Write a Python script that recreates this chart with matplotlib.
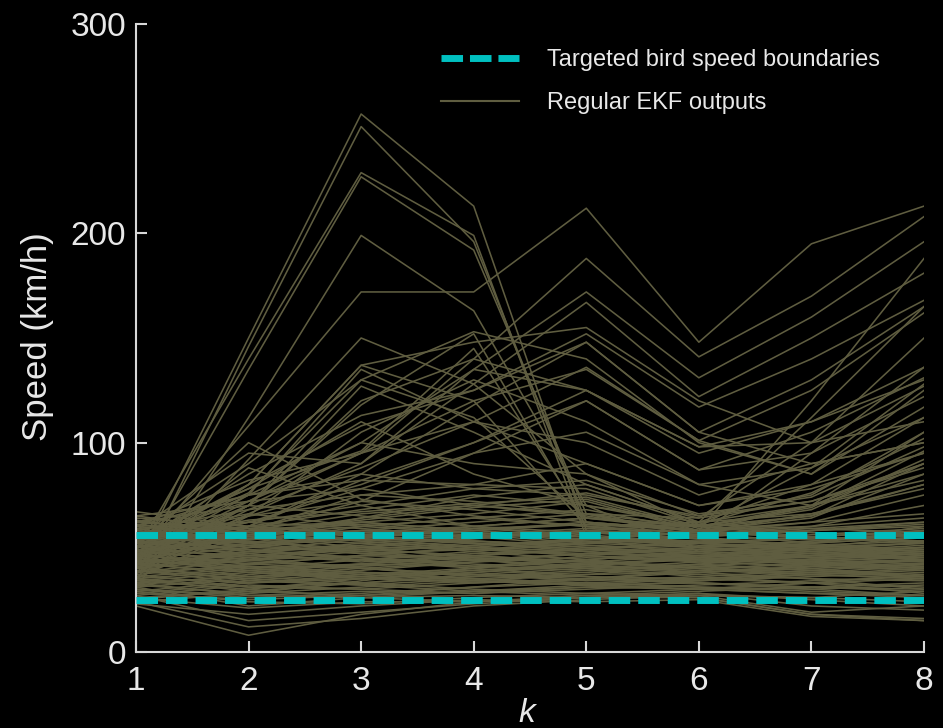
import matplotlib
matplotlib.use("Agg")
import matplotlib.pyplot as plt
from matplotlib.lines import Line2D

# ---------------- data ----------------
k_values = [1, 2, 3, 4, 5, 6, 7, 8]
bird_lower = 25
bird_upper = 56
y_ticks = [0, 100, 200, 300]

# tracks peaking at k=3
peak3_tracks = [
    [42, 150, 257, 213, 58, 52, 48, 50],
    [36, 146, 251, 196, 62, 50, 45, 47],
    [48, 140, 229, 199, 55, 45, 52, 55],
    [40, 135, 227, 192, 66, 55, 50, 44],
    [30, 112, 199, 163, 70, 48, 42, 40],
    [35, 92, 150, 128, 85, 60, 55, 58],
    [50, 100, 73, 65, 60, 55, 50, 52],
    [47, 88, 70, 60, 55, 50, 45, 48],
    [44, 80, 137, 120, 60, 57, 52, 60],
    [52, 76, 130, 112, 64, 58, 62, 66],
]

# tracks peaking at k=5
peak5_tracks = [
    [45, 108, 172, 172, 212, 148, 195, 213],
    [44, 70, 95, 140, 188, 141, 170, 208],
    [50, 75, 100, 135, 172, 131, 160, 196],
    [40, 66, 90, 128, 167, 122, 150, 181],
    [52, 80, 108, 125, 152, 117, 140, 168],
    [38, 60, 85, 118, 148, 105, 130, 165],
    [55, 72, 95, 110, 136, 101, 125, 162],
    [46, 65, 80, 100, 125, 98, 110, 136],
    [42, 58, 72, 95, 120, 87, 105, 131],
]

# intermediate tracks
mid_tracks = [
    [50, 80, 137, 148, 155, 120, 100, 110],
    [45, 75, 135, 110, 90, 70, 80, 95],
    [55, 90, 130, 153, 140, 100, 85, 125],
    [40, 70, 120, 140, 125, 95, 110, 130],
    [52, 85, 113, 125, 148, 105, 90, 100],
    [38, 65, 105, 130, 110, 80, 70, 90],
    [46, 72, 100, 90, 85, 65, 75, 105],
    [60, 82, 95, 120, 135, 101, 85, 117],
    [42, 68, 88, 110, 100, 75, 90, 100],
    [35, 60, 82, 100, 120, 87, 95, 122],
    [55, 78, 110, 85, 70, 60, 65, 80],
    [44, 70, 127, 105, 80, 62, 70, 85],
    [58, 95, 90, 135, 125, 98, 100, 127],
    [50, 62, 78, 95, 105, 80, 88, 112],
    [40, 58, 75, 80, 90, 70, 78, 95],
    [62, 75, 85, 78, 75, 65, 72, 90],
    [48, 70, 118, 152, 60, 55, 58, 62],
    [54, 78, 96, 145, 62, 58, 54, 56],
    [50, 58, 62, 58, 62, 58, 120, 188],
    [46, 52, 60, 64, 60, 62, 112, 165],
    [54, 60, 56, 55, 58, 56, 95, 136],
    [40, 48, 54, 60, 64, 60, 88, 128],
    [48, 56, 64, 70, 66, 64, 100, 150],
    [55, 65, 72, 68, 62, 58, 60, 70],
    [50, 60, 68, 75, 70, 62, 66, 78],
    [62, 70, 65, 60, 64, 60, 70, 82],
    [45, 58, 66, 70, 76, 64, 72, 88],
    [58, 68, 75, 72, 66, 60, 68, 92],
    [48, 55, 62, 66, 72, 58, 64, 85],
    [65, 72, 78, 70, 65, 57, 62, 75],
    [52, 62, 70, 78, 82, 66, 74, 98],
    [56, 66, 60, 64, 68, 58, 70, 105],
    [44, 54, 64, 74, 80, 62, 80, 112],
    [60, 75, 82, 80, 78, 61, 76, 102],
    [38, 50, 58, 62, 66, 57, 66, 80],
    [53, 63, 67, 71, 74, 60, 69, 96],
    [47, 57, 63, 69, 73, 59, 65, 90],
]

# dense band of tracks around the bird speed range
band_tracks = [
    [22, 8, 18, 24, 27, 29, 31, 33],
    [24, 12, 16, 22, 25, 27, 26, 29],
    [27, 15, 19, 23, 26, 26, 18, 16],
    [23, 18, 22, 25, 24, 25, 17, 15],
    [26, 21, 24, 24, 26, 28, 22, 20],
    [29, 24, 23, 26, 28, 27, 26, 24],
    [31, 22, 26, 29, 31, 30, 28, 27],
    [33, 27, 29, 28, 30, 32, 34, 36],
    [35, 29, 27, 31, 33, 31, 30, 32],
    [37, 31, 30, 33, 35, 34, 36, 38],
    [39, 33, 35, 34, 32, 33, 31, 30],
    [41, 34, 32, 35, 37, 38, 40, 42],
    [43, 36, 38, 37, 36, 35, 33, 31],
    [45, 38, 36, 39, 41, 40, 42, 44],
    [47, 40, 42, 41, 39, 37, 35, 34],
    [49, 42, 40, 43, 45, 44, 46, 48],
    [51, 44, 46, 45, 43, 41, 39, 37],
    [53, 46, 44, 47, 49, 48, 50, 52],
    [55, 48, 50, 49, 47, 45, 43, 41],
    [57, 50, 48, 51, 53, 52, 54, 56],
    [59, 52, 54, 53, 51, 49, 47, 45],
    [61, 54, 52, 55, 57, 56, 58, 60],
    [63, 56, 58, 57, 55, 53, 51, 49],
    [65, 58, 56, 59, 61, 60, 57, 55],
    [67, 60, 57, 55, 58, 56, 59, 62],
    [60, 55, 50, 45, 42, 38, 35, 30],
    [58, 52, 47, 44, 40, 36, 33, 28],
    [25, 30, 35, 38, 42, 45, 50, 55],
    [28, 33, 37, 40, 44, 48, 52, 58],
    [45, 50, 55, 52, 48, 44, 40, 36],
    [38, 44, 50, 55, 58, 54, 50, 46],
    [50, 45, 40, 36, 38, 42, 46, 50],
    [42, 47, 52, 48, 44, 40, 37, 35],
    [36, 40, 44, 48, 52, 56, 60, 64],
    [54, 49, 44, 40, 36, 33, 30, 27],
    [32, 28, 34, 40, 46, 50, 48, 44],
    [48, 54, 58, 56, 52, 50, 53, 57],
    [44, 40, 37, 34, 37, 41, 44, 47],
    [56, 60, 62, 58, 55, 52, 48, 45],
    [30, 26, 28, 31, 35, 39, 43, 46],
    [40, 36, 33, 30, 28, 30, 33, 37],
    [62, 58, 54, 50, 46, 44, 42, 40],
    [34, 38, 42, 45, 43, 40, 38, 36],
    [46, 43, 41, 44, 47, 50, 53, 56],
    [52, 56, 53, 49, 46, 43, 41, 39],
    [27, 32, 30, 28, 31, 34, 37, 40],
    [58, 54, 57, 60, 57, 54, 51, 48],
    [39, 35, 39, 43, 47, 46, 44, 42],
    [49, 46, 50, 53, 50, 47, 45, 43],
    [33, 36, 40, 37, 34, 36, 39, 42],
    [55, 51, 47, 49, 52, 55, 58, 61],
    [43, 48, 45, 42, 40, 38, 41, 44],
    [37, 42, 46, 50, 48, 45, 42, 39],
    [61, 57, 53, 56, 59, 57, 55, 53],
    [29, 34, 38, 35, 33, 31, 29, 27],
    [47, 51, 55, 59, 56, 52, 49, 46],
    [53, 49, 45, 41, 44, 48, 52, 55],
    [35, 31, 33, 36, 39, 42, 39, 36],
    [44, 39, 42, 46, 49, 52, 55, 58],
    [57, 53, 49, 46, 43, 40, 38, 36],
    [41, 45, 49, 46, 43, 46, 49, 52],
    [26, 29, 33, 37, 40, 43, 46, 49],
    [64, 60, 56, 52, 49, 46, 44, 42],
    [50, 53, 48, 44, 41, 39, 37, 35],
    [36, 33, 36, 39, 42, 44, 47, 50],
    [59, 62, 59, 55, 51, 48, 46, 44],
    [42, 38, 35, 38, 41, 45, 48, 51],
    [31, 35, 32, 29, 32, 35, 38, 41],
    [54, 58, 61, 57, 54, 51, 49, 47],
    [46, 42, 46, 50, 54, 57, 55, 53],
    [38, 41, 38, 35, 33, 35, 37, 39],
    [60, 56, 60, 57, 53, 50, 47, 44],
    [45, 41, 38, 35, 32, 30, 28, 26],
    [28, 25, 27, 29, 27, 26, 18, 15],
    [30, 27, 26, 27, 26, 27, 19, 22],
    [34, 30, 26, 24, 26, 28, 25, 22],
    [52, 48, 51, 54, 58, 61, 59, 57],
    [40, 44, 48, 51, 54, 52, 50, 48],
    [32, 37, 41, 44, 47, 49, 51, 53],
    [48, 44, 40, 37, 35, 33, 31, 29],
    [56, 52, 55, 58, 61, 58, 55, 52],
    [35, 39, 36, 33, 35, 38, 41, 44],
    [43, 46, 49, 52, 49, 46, 43, 40],
    [24, 28, 31, 34, 32, 30, 33, 35],
    [51, 47, 43, 46, 49, 53, 56, 59],
    [62, 59, 55, 53, 50, 47, 45, 43],
]

# ---------------- style ----------------
bg = "black"
fg = "#e8e8e8"
track_color = "#5f5d40"
bound_color = "#00c0c0"

fig = plt.figure(figsize=(9.43, 7.28), dpi=100, facecolor=bg)
ax = fig.add_axes([136 / 943, 1 - 652 / 728, (924 - 136) / 943, (652 - 24) / 728])
ax.set_facecolor(bg)

for group in (band_tracks, mid_tracks, peak5_tracks, peak3_tracks):
    for track in group:
        ax.plot(k_values, track, color=track_color, linewidth=1.15, zorder=2)

for b in (bird_lower, bird_upper):
    ax.axhline(b, color=bound_color, linewidth=5, dashes=(3.1, 1.15),
               solid_capstyle="butt", dash_capstyle="butt", zorder=3)

ax.set_xlim(1, 8)
ax.set_ylim(0, 300)
ax.set_xticks(k_values)
ax.set_yticks(y_ticks)

for s in ("top", "right"):
    ax.spines[s].set_visible(False)
for s in ("left", "bottom"):
    ax.spines[s].set_color("#d8d8d8")
    ax.spines[s].set_linewidth(1.5)

ax.tick_params(axis="both", direction="in", length=8, width=1.5,
               color="#d8d8d8", labelcolor=fg)
ax.tick_params(axis="y", labelsize=24, pad=7)
ax.tick_params(axis="x", labelsize=24, pad=10)
for lab in ax.get_yticklabels():
    lab.set_family(["Liberation Sans", "DejaVu Sans"])
for lab in ax.get_xticklabels():
    lab.set_family(["Liberation Sans Narrow", "Liberation Sans", "DejaVu Sans"])

fig.text(38 / 943, 1 - 337 / 728, "Speed (km/h)", rotation=90, color=fg,
         fontsize=25, family=["Liberation Sans", "DejaVu Sans"],
         ha="center", va="center")
fig.text(527 / 943, 1 - 713 / 728, "k", style="italic", color=fg,
         fontsize=24, family=["Liberation Sans Narrow", "Liberation Sans", "DejaVu Sans"],
         ha="center", va="center")

handles = [
    Line2D([], [], color=bound_color, linewidth=5, dashes=(3.1, 1.0),
           dash_capstyle="butt"),
    Line2D([], [], color=track_color, linewidth=1.5),
]
labels = ["Targeted bird speed boundaries", "Regular EKF outputs"]
leg = fig.legend(handles, labels, loc="upper left",
                 bbox_to_anchor=(441 / 943, 1 - 49 / 728),
                 frameon=False, handlelength=3.3,
                 handletextpad=1.2, labelspacing=0.88,
                 borderpad=0, borderaxespad=0,
                 prop={"family": ["Liberation Sans", "DejaVu Sans"], "size": 17})
for t in leg.get_texts():
    t.set_color(fg)

fig.savefig("out.png", dpi=100, facecolor=bg)
